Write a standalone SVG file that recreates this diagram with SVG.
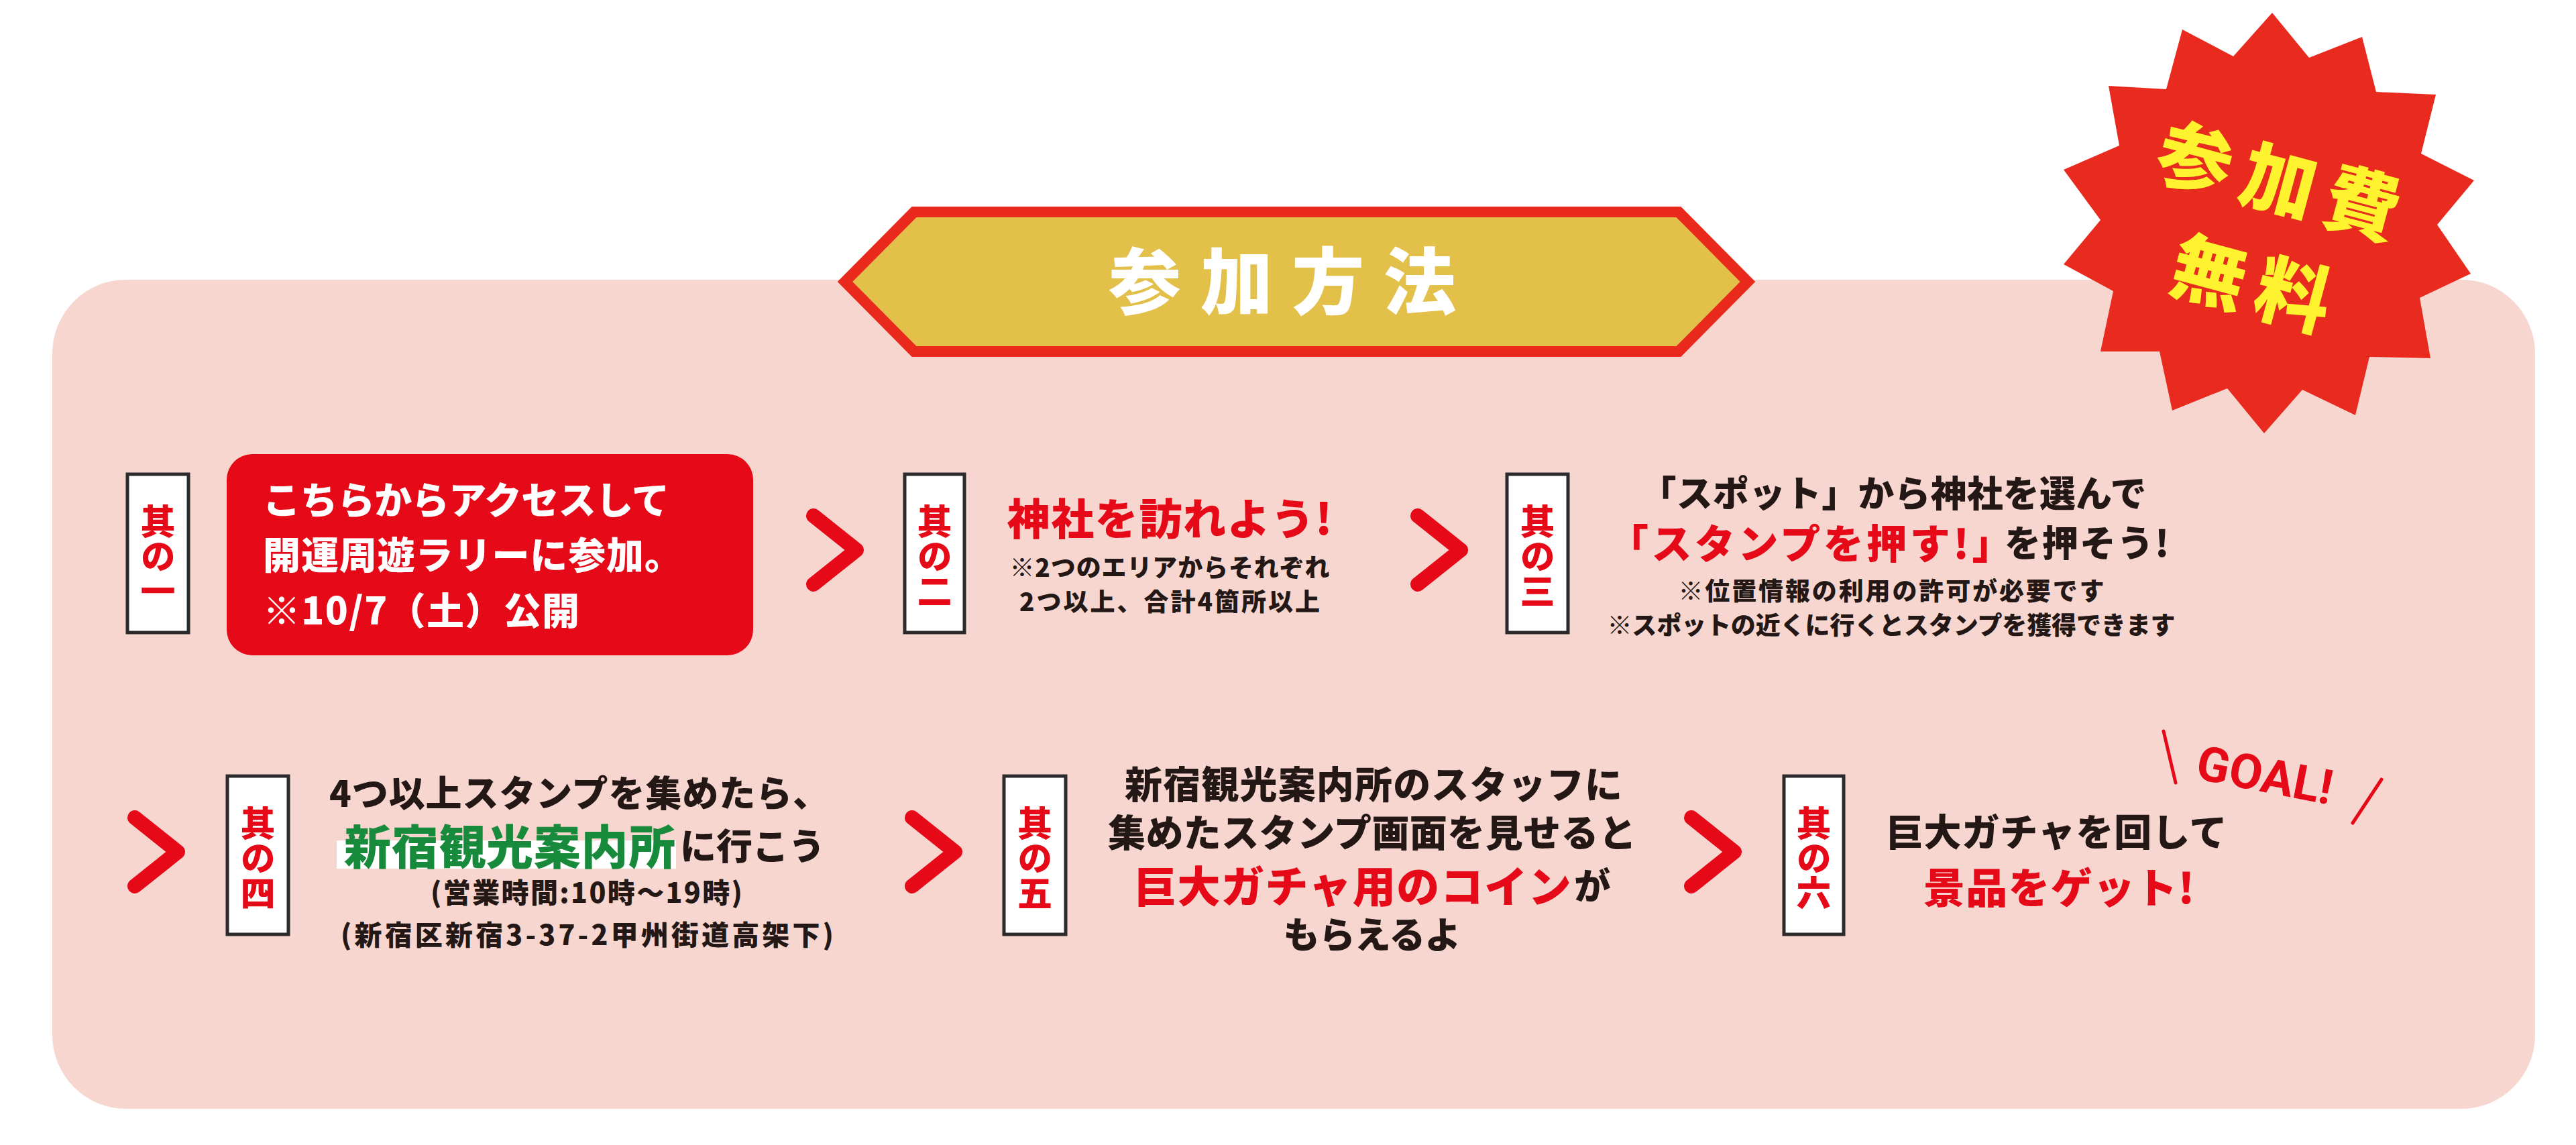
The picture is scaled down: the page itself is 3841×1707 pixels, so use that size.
<svg xmlns="http://www.w3.org/2000/svg" width="3841" height="1707" viewBox="0 0 3841 1707">
<style>
.jp{font-family:"Noto Sans CJK JP","Noto Sans CJK SC",sans-serif;font-weight:900;dominant-baseline:central}
.mid{text-anchor:middle}
.st{text-anchor:start}
.rd{fill:#e60a18}
.dk{fill:#231815}
.wh{fill:#ffffff}
.gr{fill:#178a3c}
.yl{fill:#fff22e}
.tagbox{fill:#ffffff;stroke:#2b2b2b;stroke-width:5}
.tagt{font-size:52px;fill:#e60a18;text-anchor:middle;writing-mode:vertical-rl}
.chev{fill:none;stroke:#e60a18;stroke-width:22;stroke-linecap:round;stroke-linejoin:round}
</style>
<defs>
<path id="chv" class="chev" d="M -33 -51 L 31 0 L -33 51"/>
</defs>
<rect width="3841" height="1707" fill="#ffffff"/>
<rect id="panel" x="78" y="417" width="3702" height="1236" rx="110" ry="110" fill="#f7d6d0"/>

<g id="title">
<path d="M 1363 316 L 2503 316 L 2606 420 L 2503 524 L 1363 524 L 1260 420 Z" fill="#e2c04a" stroke="#e8291c" stroke-width="16" stroke-linejoin="miter"/>
<text class="jp mid wh" x="1912" y="413" font-size="108" textLength="518" lengthAdjust="spacing">参加方法</text>
</g>

<g id="badge">
<polygon fill="#e92a1e" points="3388,19 3443,86 3522,55 3543,137 3632,141 3610,229 3689,269 3634,335 3684,408 3608,444 3624,534 3533,532 3512,619 3433,581 3376,646 3321,579 3239,612 3220,524 3132,524 3151,434 3077,394 3132,328 3077,253 3160,217 3144,128 3230,133 3254,44 3330,84"/>
<text class="jp mid yl" font-size="112" transform="translate(3400,263) rotate(15)"><tspan x="0" y="0" textLength="370" lengthAdjust="spacing">参加費</tspan><tspan x="0" y="158" textLength="242" lengthAdjust="spacing">無料</tspan></text>
</g>

<g id="step1">
<rect class="tagbox" x="190" y="707" width="91" height="236"/>
<text class="jp tagt" x="235.5" y="829">其の一</text>
<rect x="338" y="677" width="785" height="300" rx="38" ry="38" fill="#e60a18"/>
<text class="jp st wh" font-size="56"><tspan x="392" y="741" textLength="606" lengthAdjust="spacing">こちらからアクセスして</tspan><tspan x="392" y="823" textLength="625" lengthAdjust="spacing">開運周遊ラリーに参加。</tspan><tspan x="392" y="906" textLength="472" lengthAdjust="spacing">※10/7（土）公開</tspan></text>
</g>

<g id="step2">
<rect class="tagbox" x="1349" y="707" width="89" height="236"/>
<text class="jp tagt" x="1393.5" y="829">其の二</text>
<text class="jp mid rd" x="1744" y="769" font-size="64" textLength="485" lengthAdjust="spacing">神社を訪れよう!</text>
<text class="jp mid dk" font-size="37"><tspan x="1744" y="844" textLength="477" lengthAdjust="spacing">※2つのエリアからそれぞれ</tspan><tspan x="1744" y="895" textLength="448" lengthAdjust="spacing">2つ以上、合計4箇所以上</tspan></text>
</g>

<g id="step3">
<rect class="tagbox" x="2247" y="707" width="91" height="236"/>
<text class="jp tagt" x="2292.5" y="829">其の三</text>
<text class="jp mid dk" x="2823" y="732" font-size="54" textLength="755" lengthAdjust="spacing">「スポット」から神社を選んで</text>
<text class="jp st" x="2398" y="806"><tspan class="rd" font-size="60" letter-spacing="4.5">「スタンプを押す!」</tspan><tspan class="dk" font-size="54" dx="-16" letter-spacing="2">を押そう!</tspan></text>
<text class="jp mid dk" font-size="37"><tspan x="2820" y="879" textLength="635" lengthAdjust="spacing">※位置情報の利用の許可が必要です</tspan><tspan x="2820" y="930" textLength="847" lengthAdjust="spacing">※スポットの近くに行くとスタンプを獲得できます</tspan></text>
</g>

<g id="step4">
<rect class="tagbox" x="339" y="1157" width="91" height="236"/>
<text class="jp tagt" x="384.5" y="1279">其の四</text>
<rect x="502" y="1253" width="506" height="42" fill="#ffffff"/>
<text class="jp st dk" font-size="54"><tspan x="491" y="1179" textLength="745" lengthAdjust="spacing">4つ以上スタンプを集めたら、</tspan><tspan class="gr" x="513" y="1258" font-size="70" letter-spacing="0.7">新宿観光案内所</tspan><tspan class="dk" font-size="54" dx="6">に行こう</tspan><tspan x="642" y="1328" font-size="41" textLength="465" lengthAdjust="spacing">(営業時間:10時～19時)</tspan><tspan x="508" y="1391" font-size="41" textLength="735" lengthAdjust="spacing">(新宿区新宿3-37-2甲州街道高架下)</tspan></text>
</g>

<g id="step5">
<rect class="tagbox" x="1497" y="1157" width="92" height="236"/>
<text class="jp tagt" x="1543" y="1279">其の五</text>
<text class="jp st dk" font-size="56"><tspan x="1677" y="1165" textLength="742" lengthAdjust="spacing">新宿観光案内所のスタッフに</tspan><tspan x="1652" y="1237" textLength="788" lengthAdjust="spacing">集めたスタンプ画面を見せると</tspan><tspan class="rd" x="1690" y="1317" font-size="64" letter-spacing="1.5">巨大ガチャ用のコイン</tspan><tspan class="dk" font-size="54" dx="3">が</tspan><tspan x="1913.5" y="1390" font-size="54" textLength="265" lengthAdjust="spacing">もらえるよ</tspan></text>
</g>

<g id="step6">
<rect class="tagbox" x="2660" y="1157" width="89" height="236"/>
<text class="jp tagt" x="2704.5" y="1279">其の六</text>
<text class="jp mid dk" x="3066" y="1236" font-size="56" textLength="509" lengthAdjust="spacing">巨大ガチャを回して</text>
<text class="jp mid rd" x="3070" y="1320" font-size="62" textLength="404" lengthAdjust="spacing">景品をゲット!</text>
<g id="goal">
<text x="0" y="0" transform="translate(3377,1156) rotate(11)" font-family="Roboto, 'Liberation Sans', sans-serif" font-weight="700" font-size="72" fill="#e60a18" text-anchor="middle" dominant-baseline="central">GOAL!</text>
<line x1="3226" y1="1090" x2="3244" y2="1167" stroke="#e60a18" stroke-width="5" stroke-linecap="round"/>
<line x1="3551" y1="1162" x2="3508" y2="1227" stroke="#e60a18" stroke-width="5" stroke-linecap="round"/>
</g>
</g>

<g id="connectors">
<use href="#chv" transform="translate(1246,820)"/>
<use href="#chv" transform="translate(2147,820)"/>
<use href="#chv" transform="translate(234,1270)"/>
<use href="#chv" transform="translate(1393,1270)"/>
<use href="#chv" transform="translate(2555,1270)"/>
</g>
</svg>
